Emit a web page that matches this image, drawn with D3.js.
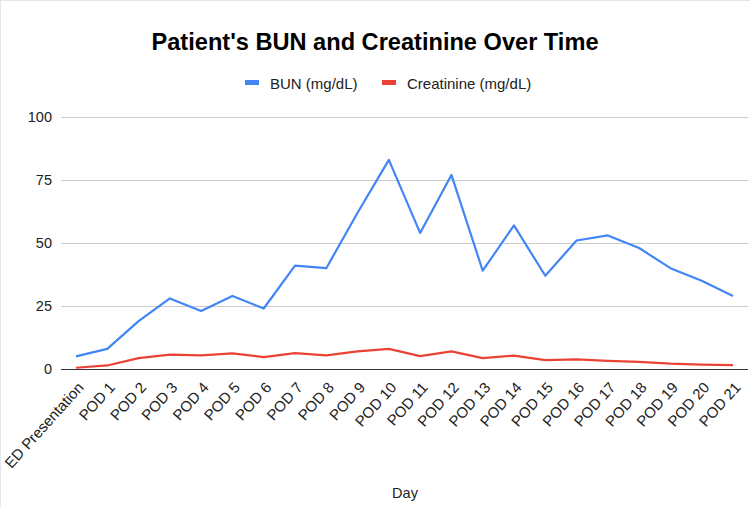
<html>
<head>
	<meta charset="UTF-8">
	<title>Patient's BUN and Creatinine Over Time</title>
	<script src="https://cdn.jsdelivr.net/npm/d3@7"></script>
	<style>
		body {
			padding: 0;
			margin: 0;
			background: #fff;
		}
		svg text {
			font-family: "Liberation Sans", Arial, sans-serif;
		}
	</style>
</head>
<body>
	<script>
		// data
		var days = ["ED Presentation", "POD 1", "POD 2", "POD 3", "POD 4", "POD 5", "POD 6",
			"POD 7", "POD 8", "POD 9", "POD 10", "POD 11", "POD 12", "POD 13", "POD 14",
			"POD 15", "POD 16", "POD 17", "POD 18", "POD 19", "POD 20", "POD 21"];
		var bun = [5, 8, 19, 28, 23, 29, 24, 41, 40, 62, 83, 54, 77, 39, 57, 37, 51, 53, 48, 40, 35, 29];
		var creatinine = [0.5, 1.4, 4.3, 5.7, 5.4, 6.2, 4.7, 6.3, 5.4, 7.0, 8.0, 5.1, 7.0, 4.3, 5.3, 3.5, 3.8, 3.2, 2.8, 2.1, 1.7, 1.5];
		var yTicks = [0, 25, 50, 75, 100];
		var seriesNames = ["BUN (mg/dL)", "Creatinine (mg/dL)"];
		var colors = ["#4285f4", "#ea4335"];

		var w = 750,
			h = 507;

		var svg = d3.select("body").append("svg")
			.attr("width", w)
			.attr("height", h);

		// faint frame on top and left like the screenshot
		svg.append("line").attr("x1", 0).attr("x2", w).attr("y1", 0.5).attr("y2", 0.5)
			.attr("stroke", "#e6e6e6");
		svg.append("line").attr("x1", 0.5).attr("x2", 0.5).attr("y1", 0).attr("y2", h)
			.attr("stroke", "#e6e6e6");

		var x = d3.scalePoint().domain(days).range([76, 733]);
		var y = d3.scaleLinear().domain([0, 100]).range([369, 117]);

		// gridlines
		svg.append("g").selectAll("line")
			.data(yTicks)
			.enter().append("line")
			.attr("x1", 61)
			.attr("x2", 748)
			.attr("y1", function(d) { return Math.round(y(d)) + 0.5; })
			.attr("y2", function(d) { return Math.round(y(d)) + 0.5; })
			.attr("stroke", function(d) { return d == 0 ? "#333" : "#ccc"; })
			.attr("stroke-width", 1);

		// y axis labels
		var yAxis = d3.axisLeft(y).tickValues(yTicks).tickSize(0).tickPadding(0);
		var gy = svg.append("g").attr("transform", "translate(52,0)").call(yAxis);
		gy.select(".domain").remove();
		gy.selectAll("text")
			.attr("font-size", 14.5)
			.attr("fill", "#222")
			.attr("font-family", "Liberation Sans, Arial, sans-serif");

		// x axis labels, rotated
		var xAxis = d3.axisBottom(x).tickSize(0).tickPadding(0);
		var gx = svg.append("g").attr("transform", "translate(0,369)").call(xAxis);
		gx.select(".domain").remove();
		gx.selectAll("text")
			.attr("font-size", 15)
			.attr("fill", "#222")
			.attr("font-family", "Liberation Sans, Arial, sans-serif")
			.attr("text-anchor", "end")
			.attr("dy", null)
			.attr("y", 0)
			.attr("transform", "translate(8,19) rotate(-48)");

		// lines
		var line = d3.line()
			.x(function(d, i) { return x(days[i]); })
			.y(function(d) { return y(d); });

		[bun, creatinine].forEach(function(s, i) {
			svg.append("path")
				.datum(s)
				.attr("d", line)
				.attr("fill", "none")
				.attr("stroke", colors[i])
				.attr("stroke-width", 2.2)
				.attr("stroke-linejoin", "round");
		});

		// title
		svg.append("text")
			.attr("x", 375)
			.attr("y", 50)
			.attr("text-anchor", "middle")
			.attr("font-size", 23.6)
			.attr("font-weight", "bold")
			.attr("fill", "#000")
			.text("Patient's BUN and Creatinine Over Time");

		// legend
		var legendX = [245, 382];
		var lg = svg.append("g").selectAll("g")
			.data(seriesNames)
			.enter().append("g")
			.attr("transform", function(d, i) { return "translate(" + legendX[i] + ",0)"; });
		lg.append("rect")
			.attr("x", 0).attr("y", 80)
			.attr("width", 14).attr("height", 5)
			.attr("fill", function(d, i) { return colors[i]; });
		lg.append("text")
			.attr("x", 25).attr("y", 88.5)
			.attr("font-size", 15)
			.attr("fill", "#222")
			.text(function(d) { return d; });

		// axis title
		svg.append("text")
			.attr("x", 405)
			.attr("y", 498)
			.attr("text-anchor", "middle")
			.attr("font-size", 14.5)
			.attr("fill", "#222")
			.text("Day");
	</script>
</body>
</html>
